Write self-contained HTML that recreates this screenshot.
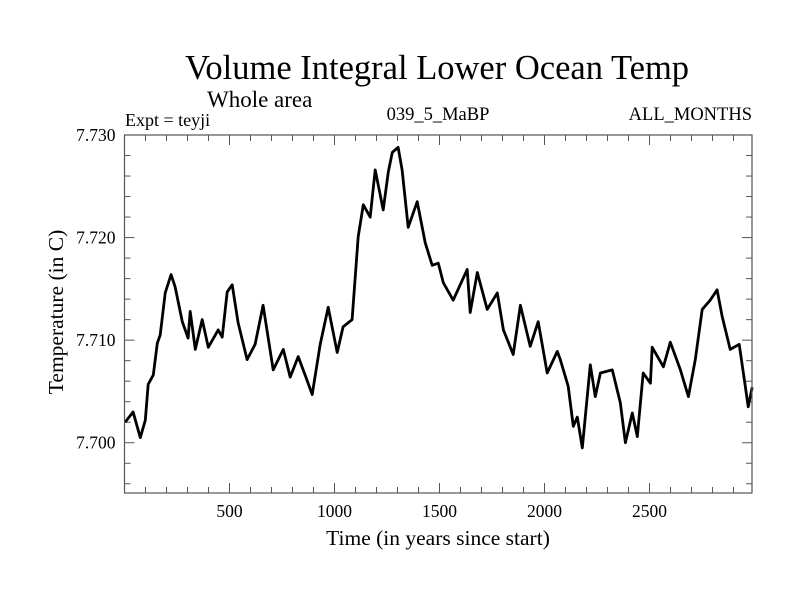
<!DOCTYPE html>
<html><head><meta charset="utf-8"><style>
body{margin:0;background:#fff}
svg text{font-family:"Liberation Serif",serif;fill:#000}
</style></head><body>
<svg id="chart" width="800" height="600">
<text x="437" y="79" font-size="34.5" text-anchor="middle">Volume Integral Lower Ocean Temp</text>
<text x="207" y="107" font-size="23">Whole area</text>
<text x="125" y="126" font-size="18">Expt = teyji</text>
<text x="438" y="120" font-size="18.5" text-anchor="middle">039_5_MaBP</text>
<text x="752" y="120" font-size="18.5" text-anchor="end">ALL_MONTHS</text>
<text transform="translate(63,312) rotate(-90)" font-size="21.5" text-anchor="middle">Temperature (in C)</text>
<text x="438" y="545" font-size="21.5" text-anchor="middle">Time (in years since start)</text>
<g id="axes"></g>
<path id="series" fill="none" stroke="#000" stroke-width="2.8" stroke-linejoin="round"/>
<rect x="124.5" y="135" width="627.5" height="358" fill="none" stroke="#555" stroke-width="1.2"/>
</svg>
<script>
const years=[3,41,75,99,113,137,156,170,194,222,241,275,303,313,337,370,399,446,465,489,513,541,584,622,660,708,756,789,827,860,894,932,970,1013,1041,1084,1113,1137,1170,1194,1232,1256,1275,1303,1322,1351,1394,1432,1465,1494,1518,1565,1632,1646,1680,1727,1775,1804,1851,1885,1932,1970,2013,2061,2075,2113,2137,2156,2180,2218,2242,2266,2323,2361,2385,2418,2442,2470,2504,2513,2566,2599,2647,2685,2718,2751,2789,2822,2846,2884,2927,2956,2970,2989];
const temps=[7.7020,7.7030,7.7005,7.7022,7.7057,7.7066,7.7097,7.7105,7.7146,7.7164,7.7152,7.7118,7.7102,7.7128,7.7091,7.7120,7.7093,7.7110,7.7103,7.7147,7.7154,7.7117,7.7081,7.7096,7.7134,7.7071,7.7091,7.7064,7.7084,7.7066,7.7047,7.7096,7.7132,7.7088,7.7113,7.7120,7.7201,7.7232,7.7220,7.7266,7.7227,7.7264,7.7283,7.7288,7.7266,7.7210,7.7235,7.7195,7.7173,7.7175,7.7156,7.7139,7.7169,7.7127,7.7166,7.7130,7.7146,7.7110,7.7086,7.7134,7.7094,7.7118,7.7068,7.7089,7.7081,7.7055,7.7016,7.7025,7.6995,7.7076,7.7045,7.7068,7.7071,7.7039,7.7000,7.7029,7.7006,7.7068,7.7058,7.7093,7.7074,7.7098,7.7071,7.7045,7.7081,7.7130,7.7139,7.7149,7.7123,7.7091,7.7096,7.7055,7.7035,7.7054];
const xTicks=[500,1000,1500,2000,2500];
const yTicks=[7.700,7.710,7.720,7.730];
const xMin=0,xMax=2988,yMin=7.6951,yMax=7.7300;
const L=124.5,R=752,T=135,B=493;
function sx(v){return L+(v-xMin)/(xMax-xMin)*(R-L);}
function sy(v){return B-(v-yMin)/(yMax-yMin)*(B-T);}
const ns="http://www.w3.org/2000/svg";
const g=document.getElementById('axes');
function line(x1,y1,x2,y2){const l=document.createElementNS(ns,'line');
l.setAttribute('x1',x1);l.setAttribute('y1',y1);l.setAttribute('x2',x2);l.setAttribute('y2',y2);
l.setAttribute('stroke','#555');l.setAttribute('stroke-width','1');


g.appendChild(l);}
for(let v=100;v<xMax;v+=100){const x=sx(v);const len=v%500===0?10:6;line(x,B,x,B-len);line(x,T,x,T+len);}
for(let k=0;k*0.002+7.696<=7.7301;k++){const v=7.696+k*0.002;const y=sy(v);const maj=Math.abs((v*1000)%10)<0.01||Math.abs((v*1000)%10-10)<0.01;const len=maj?10:6;line(L,y,L+len,y);line(R,y,R-len,y);}
xTicks.forEach(v=>{const t=document.createElementNS(ns,'text');t.setAttribute('x',sx(v));t.setAttribute('y',B+24);t.setAttribute('font-size','17.5');t.setAttribute('text-anchor','middle');t.textContent=v;


g.appendChild(t);});
yTicks.forEach(v=>{const t=document.createElementNS(ns,'text');t.setAttribute('x',L-9);t.setAttribute('y',sy(v)+6);t.setAttribute('font-size','17.5');t.setAttribute('text-anchor','end');t.textContent=v.toFixed(3);


g.appendChild(t);});
document.getElementById('series').setAttribute('d',years.map((yr,i)=>(i?'L':'M')+sx(yr).toFixed(1)+','+sy(temps[i]).toFixed(1)).join(''));
</script>
</body></html>
